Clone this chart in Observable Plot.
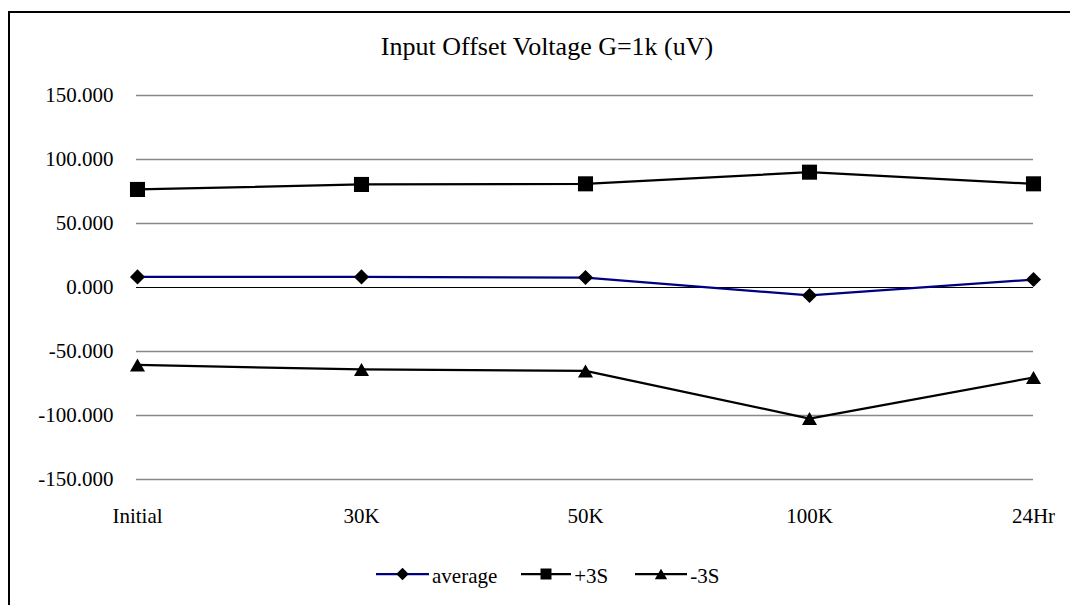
<!DOCTYPE html>
<html>
<head>
<meta charset="utf-8">
<script src="https://cdn.jsdelivr.net/npm/d3@7"></script>
<script src="https://cdn.jsdelivr.net/npm/@observablehq/plot@0.6"></script>
<style>
  html, body { margin: 0; padding: 0; background: #fff; }
  #wrap { position: relative; width: 1070px; height: 605px; overflow: hidden; background: #fff; font-family: "Liberation Serif", "Times New Roman", serif; }
  #frame { position: absolute; left: 8px; top: 11px; width: 1200px; height: 800px; border: 2px solid #000; box-sizing: border-box; }
  #chart { position: absolute; left: 0; top: 0; }
  #title { position: absolute; left: 0; width: 1094px; top: 34px; text-align: center; font-size: 26px; line-height: 26px; color: #000; }
  #legend { position: absolute; left: 376px; top: 564px; display: flex; align-items: center; font-size: 21px; line-height: 24px; color: #000; white-space: nowrap; }
  .item { display: flex; align-items: center; }
  .item svg { display: block; }
</style>
</head>
<body>
<div id="wrap">
  <div id="frame"></div>
  <div id="chart"></div>
  <div id="title"></div>
  <div id="legend"></div>
</div>
<script>
const title = "Input Offset Voltage G=1k (uV)";
const categories = ["Initial", "30K", "50K", "100K", "24Hr"];
const average = [8.3, 8.3, 7.8, -6.2, 6.2];
const plus3S = [76.6, 80.5, 81.0, 90.1, 81.0];
const minus3S = [-60.5, -64.0, -65.2, -102.4, -70.3];
const yTicks = [-150, -100, -50, 0, 50, 100, 150];
const seriesNames = ["average", "+3S", "-3S"];
const seriesColors = ["#000080", "#000000", "#000000"];

// triangle centred on its bounding box (as in spreadsheet markers)
const triangleBox = {
  draw(context, size) {
    const s = Math.sqrt(size / (Math.sqrt(3) / 4));
    const h = s * Math.sqrt(3) / 2;
    context.moveTo(0, -h / 2);
    context.lineTo(s / 2, h / 2);
    context.lineTo(-s / 2, h / 2);
    context.closePath();
  }
};
const seriesSymbols = ["diamond2", "square", triangleBox];
const seriesR = [6.8, 8.5, 5.6];
const seriesValues = [average, plus3S, minus3S];

const tables = seriesValues.map((vals, i) => categories.map((c, j) => ({cat: c, value: vals[j], series: seriesNames[i]})));

const marks = [
  Plot.gridY(yTicks.filter(d => d !== 0), {stroke: "#888", strokeOpacity: 1, strokeWidth: 1.5}),
  Plot.ruleY([0], {stroke: "#000", strokeWidth: 1}),
  Plot.axisY({ticks: yTicks, tickSize: 0, tickPadding: 23, tickFormat: d => d.toFixed(3), fill: "#000"}),
  Plot.axisX({tickSize: 0, tickPadding: 29, fill: "#000"})
];
tables.forEach((t, i) => {
  marks.push(Plot.line(t, {x: "cat", y: "value", stroke: seriesColors[i], strokeWidth: 2.25}));
});
tables.forEach((t, i) => {
  marks.push(Plot.dot(t, {x: "cat", y: "value", symbol: () => seriesSymbols[i], fill: "#000", stroke: "none", r: seriesR[i]}));
});

const chart = Plot.plot({
  width: 1070,
  height: 605,
  marginLeft: 136,
  marginRight: 37,
  marginTop: 95,
  marginBottom: 126,
  style: {fontFamily: "'Liberation Serif', 'Times New Roman', serif", fontSize: "21px", color: "#000", background: "transparent", overflow: "visible"},
  x: {type: "point", domain: categories, padding: 0, label: null},
  y: {domain: [-150, 150], label: null},
  symbol: {type: "identity"},
  marks
});
document.getElementById("chart").appendChild(chart);
document.getElementById("title").textContent = title;

// legend
const legend = d3.select("#legend");
const swW = [53, 50, 52];
const gaps = [24, 27, 0];
const legR = [5.6, 6.2, 4.6];
seriesNames.forEach((name, i) => {
  const item = legend.append("div").attr("class", "item").style("margin-right", gaps[i] + "px");
  const w = swW[i];
  const svg = item.append("svg").attr("width", w).attr("height", 24);
  svg.append("line").attr("x1", 0).attr("x2", w).attr("y1", 10).attr("y2", 10)
    .attr("stroke", seriesColors[i]).attr("stroke-width", 2.25);
  const sym = typeof seriesSymbols[i] === "string"
    ? ({diamond2: d3.symbolDiamond2, square: d3.symbolSquare})[seriesSymbols[i]]
    : seriesSymbols[i];
  svg.append("path").attr("transform", `translate(${w / 2},10)`)
    .attr("d", d3.symbol(sym, Math.PI * legR[i] * legR[i])()).attr("fill", "#000");
  item.append("span").style("margin-left", "3px").text(name);
});
</script>
</body>
</html>
